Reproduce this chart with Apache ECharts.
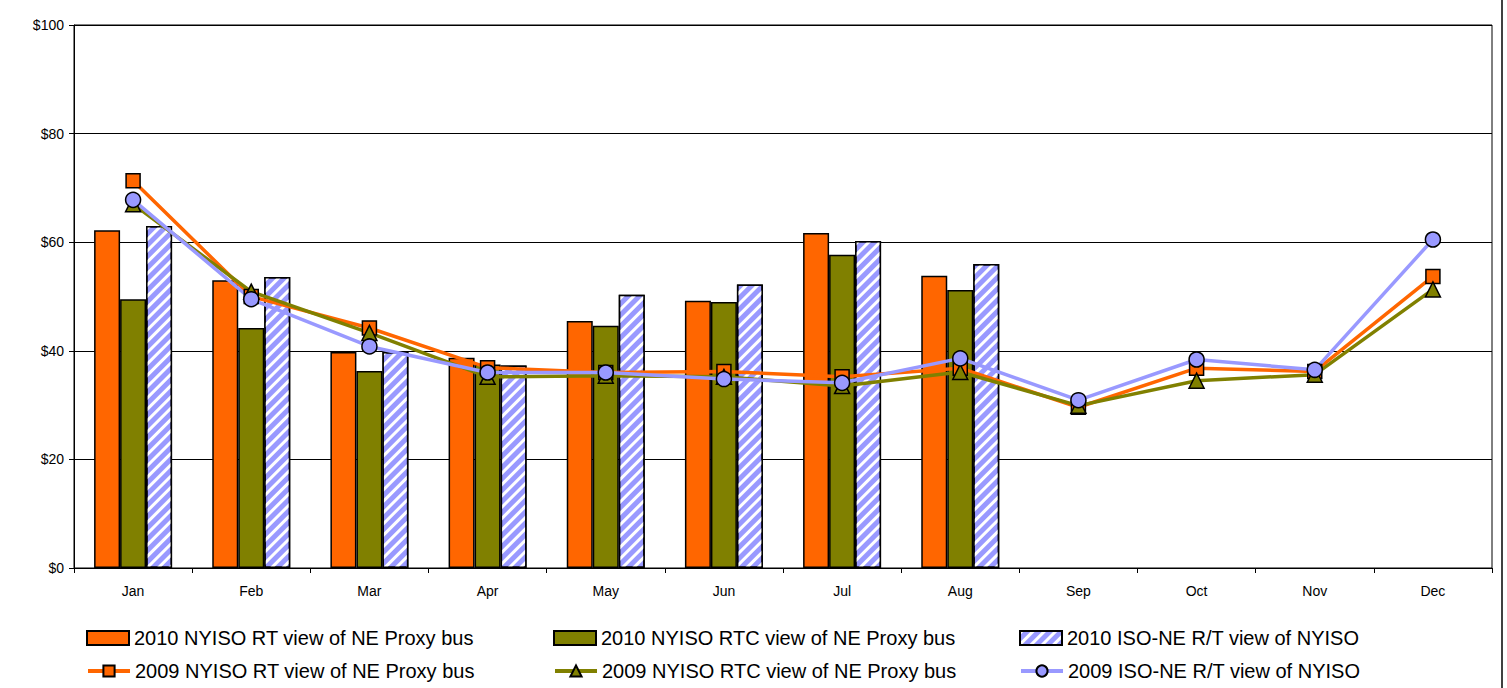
<!DOCTYPE html>
<html><head><meta charset="utf-8">
<script src="https://cdn.jsdelivr.net/npm/echarts@6/dist/echarts.min.js"></script>
<style>html,body{margin:0;padding:0;background:#fff}#c{width:1507px;height:688px}</style>
</head><body><div id="c"></div>
<script>
const months = ['Jan','Feb','Mar','Apr','May','Jun','Jul','Aug','Sep','Oct','Nov','Dec'];
const yTicks = [0,20,40,60,80,100];
const rt2010  = [62.2, 53.0, 39.8, 38.7, 45.5, 49.2, 61.7, 53.8, null, null, null, null];
const rtc2010 = [49.5, 44.2, 36.3, 37.5, 44.6, 49.0, 57.7, 51.2, null, null, null, null];
const iso2010 = [63.0, 53.6, 39.8, 37.3, 50.3, 52.2, 60.2, 56.0, null, null, null, null];
const rt2009  = [71.3, 50.0, 44.2, 36.9, 36.0, 36.2, 35.2, 36.8, 29.6, 36.8, 36.2, 53.7];
const rtc2009 = [67.0, 50.9, 43.3, 35.2, 35.4, 35.2, 33.5, 36.1, 29.9, 34.5, 35.6, 51.3];
const iso2009 = [67.8, 49.5, 40.8, 36.0, 36.0, 34.8, 34.1, 38.6, 30.9, 38.4, 36.5, 60.5];
const names = ['2010 NYISO RT view of NE Proxy bus','2010 NYISO RTC view of NE Proxy bus','2010 ISO-NE R/T view of NYISO',
               '2009 NYISO RT view of NE Proxy bus','2009 NYISO RTC view of NE Proxy bus','2009 ISO-NE R/T view of NYISO'];

const ORANGE='#FF6600', OLIVE='#808000', BLUE='#9999FF';
const font = 'Liberation Sans, Arial, sans-serif';
const chart = echarts.init(document.getElementById('c'), null, {renderer:'svg'});
const barStyle = c => ({color:c, borderColor:'#000', borderWidth:1.5});
const legendPos = [[86,628],[553,628],[1019,628],[86,661],[553,661],[1019,661]];
const legends = names.map((n,i)=>({
  data:[i<3 ? {name:n, icon:'rect'} : n], left:legendPos[i][0], top:legendPos[i][1], padding:0,
  itemWidth:42, itemHeight:14, itemGap:4,
  lineStyle:{width:4},
  textStyle:{fontSize:20, fontFamily:font, color:'#000'}
}));
chart.setOption({
  animation:false,
  backgroundColor:'#fff',
  grid:{left:74, right:15, top:25, bottom:120, show:true, borderColor:'#000', borderWidth:1},
  legend: legends,
  xAxis:{type:'category', data:months, boundaryGap:true,
    axisLine:{lineStyle:{color:'#000', width:1}},
    axisTick:{show:true, length:5, lineStyle:{color:'#000'}},
    axisLabel:{fontSize:14, fontFamily:font, color:'#000', margin:16}},
  yAxis:{type:'value', min:0, max:100, interval:20,
    axisLine:{show:true, lineStyle:{color:'#000'}},
    axisTick:{show:true, length:5, lineStyle:{color:'#000'}},
    axisLabel:{fontSize:14, fontFamily:font, color:'#000', margin:10, formatter:v=>'$'+v},
    splitLine:{lineStyle:{color:'#000', width:1}}},
  series:[
    {name:names[0], type:'bar', data:rt2010, barWidth:26, barGap:'0%', itemStyle:barStyle(ORANGE)},
    {name:names[1], type:'bar', data:rtc2010, barWidth:26, barGap:'0%', itemStyle:barStyle(OLIVE)},
    {name:names[2], type:'bar', data:iso2010, barWidth:26, barGap:'0%', itemStyle:Object.assign(barStyle(BLUE),{
      decal:{symbol:'rect', symbolSize:1, color:'#ffffff', dashArrayX:[1,0], dashArrayY:[3,5], rotation:-Math.PI/4}})},
    {name:names[3], type:'line', data:rt2009, symbol:'rect', symbolSize:14, z:5,
      lineStyle:{color:ORANGE, width:3.5}, itemStyle:{color:ORANGE, borderColor:'#000', borderWidth:1.5}},
    {name:names[4], type:'line', data:rtc2009, symbol:'triangle', symbolSize:15, z:5,
      lineStyle:{color:OLIVE, width:3.5}, itemStyle:{color:OLIVE, borderColor:'#000', borderWidth:1.5}},
    {name:names[5], type:'line', data:iso2009, symbol:'circle', symbolSize:15, z:5,
      lineStyle:{color:BLUE, width:3.5}, itemStyle:{color:BLUE, borderColor:'#000', borderWidth:1.5}}
  ],
  graphic:[{type:'line', shape:{x1:1502, y1:0, x2:1502, y2:688}, style:{stroke:'#000', lineWidth:1.5}}]
});
</script></body></html>
